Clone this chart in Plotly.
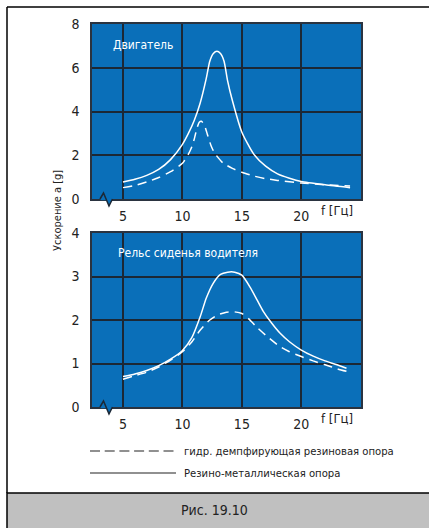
import plotly.graph_objects as go

W, H = 429, 528

# ---- data ----
top_solid_x = [5, 6, 7, 8, 9, 10, 10.5, 11, 11.5, 12, 12.3, 12.6, 12.9, 13.2, 13.5, 13.8, 14.2, 15, 16, 17, 18, 19, 20, 22, 24.1]
top_solid_y = [0.78, 0.9, 1.08, 1.35, 1.8, 2.5, 3.0, 3.6, 4.4, 5.5, 6.3, 6.65, 6.75, 6.65, 6.3, 5.4, 4.5, 3.05, 2.05, 1.5, 1.15, 0.95, 0.8, 0.65, 0.52]
top_dash_x = [5, 6, 7, 8, 9, 10, 10.5, 10.8, 11.0, 11.2, 11.4, 11.6, 11.85, 12.1, 12.4, 12.7, 13.4, 14.2, 15, 16, 17, 18, 20, 22, 24.1]
top_dash_y = [0.52, 0.62, 0.78, 0.98, 1.25, 1.63, 2.05, 2.4, 2.75, 3.2, 3.5, 3.55, 3.38, 2.95, 2.45, 2.1, 1.65, 1.4, 1.22, 1.05, 0.93, 0.85, 0.73, 0.65, 0.6]
bot_solid_x = [5, 6, 7, 8, 9, 10, 10.8, 11.5, 12, 12.6, 13.2, 13.8, 14.4, 15, 15.7, 16.3, 16.8, 17.5, 18.2, 19, 20, 21, 22, 23, 23.8]
bot_solid_y = [0.7, 0.76, 0.84, 0.95, 1.1, 1.3, 1.6, 2.08, 2.5, 2.85, 3.05, 3.1, 3.1, 3.03, 2.75, 2.45, 2.2, 1.93, 1.7, 1.5, 1.31, 1.17, 1.06, 0.97, 0.89]
bot_dash_x = [5, 6, 7, 8, 9, 10, 10.8, 11.5, 12.3, 13, 13.7, 14.3, 15, 15.6, 16.2, 17, 18.2, 19, 20, 21, 22, 23, 24.2]
bot_dash_y = [0.64, 0.72, 0.8, 0.92, 1.08, 1.27, 1.5, 1.77, 2.0, 2.12, 2.18, 2.19, 2.15, 2.02, 1.85, 1.65, 1.39, 1.27, 1.16, 1.06, 0.97, 0.88, 0.79]

x_ticks = [5, 10, 15, 20]
top_y_ticks = [0, 2, 4, 6, 8]
bot_y_ticks = [0, 1, 2, 3, 4]

BLUE = "#0a6fb9"
GRID = "#1c2835"
TXT = "#222222"
FONT = "Liberation Sans Narrow, DejaVu Sans Condensed, Roboto Condensed, Roboto, sans-serif"

def px(x):
    return x / W

def py(y):
    return 1 - y / H

fig = go.Figure()
dash = "9px,6px"
fig.add_trace(go.Scatter(x=top_solid_x, y=top_solid_y, mode="lines", line=dict(color="white", width=1.5, shape="spline", smoothing=0.6), xaxis="x", yaxis="y", hoverinfo="skip"))
fig.add_trace(go.Scatter(x=top_dash_x, y=top_dash_y, mode="lines", line=dict(color="white", width=1.5, dash=dash, shape="spline", smoothing=0.5), xaxis="x", yaxis="y", hoverinfo="skip"))
fig.add_trace(go.Scatter(x=bot_solid_x, y=bot_solid_y, mode="lines", line=dict(color="white", width=1.5, shape="spline", smoothing=0.6), xaxis="x2", yaxis="y2", hoverinfo="skip"))
fig.add_trace(go.Scatter(x=bot_dash_x, y=bot_dash_y, mode="lines", line=dict(color="white", width=1.5, dash=dash, shape="spline", smoothing=0.6), xaxis="x2", yaxis="y2", hoverinfo="skip"))

xdom = [px(92), px(361)]
xr = [2.393, 25.02]
axcommon = dict(showgrid=True, gridcolor=GRID, gridwidth=1.5, zeroline=False, automargin=False,
                showline=True, linecolor="#2a3340", linewidth=1.5, mirror=True,
                tickfont=dict(family=FONT, size=14, color=TXT), fixedrange=True)

fig.update_layout(
    width=W, height=H, margin=dict(l=0, r=0, t=0, b=0),
    paper_bgcolor="white", plot_bgcolor=BLUE, showlegend=False,
    xaxis=dict(domain=xdom, range=xr, tickvals=x_ticks, anchor="y", ticks="outside", ticklen=3, tickcolor="rgba(0,0,0,0)", **axcommon),
    yaxis=dict(domain=[py(199), py(24)], range=[0, 8], tickvals=top_y_ticks, anchor="x", ticks="outside", ticklen=8, tickcolor="rgba(0,0,0,0)", **axcommon),
    xaxis2=dict(domain=xdom, range=xr, tickvals=x_ticks, anchor="y2", ticks="outside", ticklen=3, tickcolor="rgba(0,0,0,0)", **axcommon),
    yaxis2=dict(domain=[py(407), py(233)], range=[0, 4], tickvals=bot_y_ticks, anchor="x2", ticks="outside", ticklen=8, tickcolor="rgba(0,0,0,0)", **axcommon),
)

shapes = []
# outer frame
shapes.append(dict(type="line", xref="paper", yref="paper", x0=px(7), x1=px(7), y0=py(7), y1=py(493), line=dict(color="black", width=1.5)))
shapes.append(dict(type="line", xref="paper", yref="paper", x0=px(7), x1=1, y0=py(7), y1=py(7), line=dict(color="black", width=1.5)))
shapes.append(dict(type="rect", xref="paper", yref="paper", x0=px(7), x1=1.01, y0=-0.01, y1=py(493), fillcolor="#c0c0c0", line=dict(color="black", width=1.5)))

# axis break notches
for base in (199, 407):
    shapes.append(dict(type="rect", xref="paper", yref="paper", x0=px(100.5), x1=px(111.5), y0=py(base + 1.2), y1=py(base - 1.2), fillcolor=BLUE, line=dict(width=0), layer="above"))
    pts = [(100, base), (103.5, base - 6), (109, base + 7), (112.5, base)]
    path = "M" + " L".join(f"{px(a):.5f},{py(b):.5f}" for a, b in pts)
    shapes.append(dict(type="path", xref="paper", yref="paper", path=path + " Z", fillcolor=BLUE, line=dict(width=0), layer="above"))
    shapes.append(dict(type="path", xref="paper", yref="paper", path=path, line=dict(color=GRID, width=1.5), layer="above"))

# legend samples
shapes.append(dict(type="line", xref="paper", yref="paper", x0=px(90), x1=px(174), y0=py(451), y1=py(451), line=dict(color="#222", width=1.2, dash="10px,4.7px")))
shapes.append(dict(type="line", xref="paper", yref="paper", x0=px(90), x1=px(176), y0=py(473), y1=py(473), line=dict(color="#222", width=1.2)))

annotations = [
    dict(text="Двигатель", x=px(111), y=py(45), xref="paper", yref="paper", xanchor="left", yanchor="middle", showarrow=False, font=dict(family=FONT, size=12, color="white")),
    dict(text="Рельс сиденья водителя", x=px(116), y=py(253), xref="paper", yref="paper", xanchor="left", yanchor="middle", showarrow=False, font=dict(family=FONT, size=12, color="white")),
    dict(text="f [Гц]", x=px(337), y=py(210), xref="paper", yref="paper", xanchor="center", yanchor="middle", showarrow=False, font=dict(family=FONT, size=13, color=TXT)),
    dict(text="f [Гц]", x=px(337), y=py(418), xref="paper", yref="paper", xanchor="center", yanchor="middle", showarrow=False, font=dict(family=FONT, size=13, color=TXT)),
    dict(text="Ускорение a [g]", x=px(57), y=py(211), xref="paper", yref="paper", xanchor="center", yanchor="middle", textangle=-90, showarrow=False, font=dict(family=FONT, size=11, color=TXT)),
    dict(text="гидр. демпфирующая резиновая опора", x=px(182), y=py(451), xref="paper", yref="paper", xanchor="left", yanchor="middle", showarrow=False, font=dict(family=FONT, size=11.2, color=TXT)),
    dict(text="Резино-металлическая опора", x=px(182), y=py(473), xref="paper", yref="paper", xanchor="left", yanchor="middle", showarrow=False, font=dict(family=FONT, size=11.2, color=TXT)),
    dict(text="Рис. 19.10", x=px(214), y=py(510), xref="paper", yref="paper", xanchor="center", yanchor="middle", showarrow=False, font=dict(family=FONT, size=14, color=TXT)),
]
fig.update_layout(shapes=shapes, annotations=annotations)
fig.write_html("out.html", config={"displayModeBar": False},
               post_script="document.body.style.margin='0';document.body.style.overflow='hidden';")
